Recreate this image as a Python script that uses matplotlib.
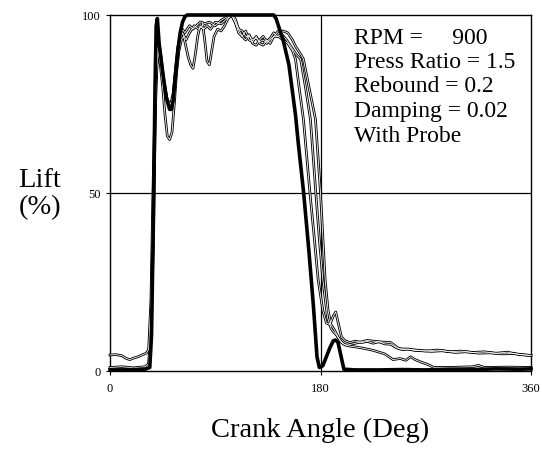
import matplotlib
matplotlib.use("Agg")
import matplotlib.pyplot as plt

plt.rcParams['font.family'] = ['Liberation Serif', 'DejaVu Serif']

# thick trace
thick_angle = [0, 10, 20, 30, 34, 35.5, 37, 38.5, 39.5, 40.5, 42, 45, 48, 51, 52.5, 54, 56, 58, 60,
               62, 64, 66, 100, 140, 142, 145, 148, 153, 158.6, 161, 165.6, 170, 174, 177, 179,
               182, 185, 188, 191, 193, 195, 197, 199, 200, 210, 230, 250, 270, 290, 310, 330,
               350, 360]
thick_lift = [0.3, 0.3, 0.4, 0.5, 1, 10, 40, 80, 97, 99, 92, 84, 77, 73.5, 73.5, 76, 83, 90, 95,
              98, 99.5, 100, 100, 100, 99, 96, 93, 86, 72, 64, 50, 34, 18, 4, 1,
              1.5, 4, 6.5, 8.5, 8.7, 8, 5, 2, 0.5, 0.3, 0.3, 0.4, 0.3, 0.5, 0.4, 0.6,
              0.5, 0.6]

# thin trace B (deep dip, offset baseline)
b_angle = [0, 5, 10, 14, 17, 20, 24, 28, 31, 33, 35, 37, 39, 41, 43, 45, 47, 49, 51, 53, 55, 57,
           59, 61, 63, 65, 67, 69, 71, 73, 75, 77, 80, 83, 86, 90, 95, 100, 104, 107, 110, 113,
           116, 119, 122, 125, 128, 131, 134, 137, 140, 144, 148, 152, 156, 158.6, 162, 165.4,
           171, 174.5, 178, 182, 185, 188, 191, 193, 195.5, 198, 201, 205, 210, 215, 220, 225,
           230, 235, 240, 245, 250, 255, 260, 270, 280, 290, 300, 310, 320, 330, 340, 350, 360]
b_lift = [4.5, 4.6, 4.3, 3.5, 3.2, 3.6, 4.0, 4.6, 5.0, 6, 20, 55, 82, 90, 86, 80, 72, 66, 65, 67,
          75, 84, 90, 93, 94, 91, 88, 86, 85, 89, 94, 97, 96, 97, 96, 98, 97.5, 99, 100, 98, 95,
          94, 95.5, 93, 92.5, 94, 92, 91.5, 93, 92, 94, 94, 93, 92, 90, 87.6, 79, 70.7,
          50, 38, 25.6, 17, 13.5, 13, 15.5, 16.6, 13, 9.5, 8.5, 8, 8.4, 8, 8.3, 7.8,
          8.2, 7.6, 7.5, 6.5, 6, 6.2, 5.8, 5.6, 5.9, 5.4, 5.6, 5.2, 5.4, 5.0, 5.3, 4.6, 4.4]

# thin trace C
c_angle = [0, 10, 20, 30, 33, 35, 37, 39, 41, 43, 46, 49, 52, 54, 56, 58, 60, 62, 64, 66, 68, 71,
           74, 77, 79, 81, 83, 85, 87, 89, 92, 95, 98, 101, 104, 107, 110, 113, 116, 119, 122,
           125, 128, 131, 134, 137, 140, 143, 147, 151, 155, 159, 163, 167, 171.4, 176, 179,
           182, 186, 189, 191, 194, 197, 200, 205, 215, 225, 235, 242, 248, 253, 257, 261, 266,
           272, 277, 290, 300, 310, 315, 320, 340, 360]
c_lift = [1.0, 1.2, 0.9, 1.2, 2, 12, 45, 80, 92, 88, 81, 76, 75, 78, 85, 91, 94, 96, 95, 96, 97,
          96, 97, 98, 98, 93, 87, 86, 90, 94, 96, 95.5, 97, 99, 100, 99, 96, 94, 93, 94.5, 92,
          91.5, 93, 94, 92.5, 93.5, 95, 94, 94.5, 93, 91, 89, 87.6, 80, 70.7, 50, 37,
          25.6, 15, 12, 11, 10, 8.5, 7.5, 7.0, 6.5, 5.8, 4.8, 3.2, 3.5, 3.0, 4.0, 3.2, 2.5,
          1.8, 1.0, 1.0, 1.1, 1.2, 1.6, 1.0, 1.1, 1.0]

# thin trace D
d_angle = [0, 10, 20, 30, 33, 35, 37, 39, 41, 43, 46, 49, 52, 54, 56, 58, 60, 62, 65, 68, 72, 76,
           80, 85, 90, 95, 100, 104, 107, 110, 113, 116, 119, 122, 125, 128, 131, 134, 137, 140,
           144, 148, 152, 156, 159, 163, 165.4, 170, 175.7, 180, 184, 186.5, 189, 192, 195, 198,
           202, 210, 220, 230, 240, 247, 255, 265, 275, 285, 295, 305, 315, 325, 335, 345, 360]
d_lift = [0.5, 0.6, 0.5, 0.8, 1.5, 8, 35, 75, 93, 90, 82, 76, 74.5, 77, 84, 90, 93, 95, 93, 95,
          97, 96, 97.5, 98, 97, 98.5, 99.5, 100, 98, 96, 95.5, 94, 94, 93, 93.5, 92.5, 93, 92,
          93, 94, 95.5, 95.5, 95, 93, 91, 89, 87.6, 80, 70.7, 50, 25.6, 17, 13, 11.5, 9.5, 8,
          7.2, 7.8, 8.6, 8.2, 8.0, 6.3, 6.1, 5.8, 5.5, 5.7, 5.2, 5.4, 5.0, 5.1, 4.8, 4.9, 4.3]

fig = plt.figure(figsize=(5.42, 4.5), dpi=100)
ax = fig.add_axes([110 / 542, 1 - 371 / 450, 421 / 542, 356 / 450])

ax.axvline(180, color='black', lw=0.9, zorder=1)
ax.axhline(50, color='black', lw=0.9, zorder=1)

thin = [(b_angle, b_lift), (c_angle, c_lift), (d_angle, d_lift)]
for a, l in thin:
    ax.plot(a, l, color='black', lw=1.9, zorder=2, clip_on=False)
for a, l in thin:
    ax.plot(a, l, color='white', lw=0.6, zorder=3, clip_on=False)
ax.plot(thick_angle, thick_lift, color='black', lw=2.6, zorder=4, clip_on=False,
        solid_joinstyle='round')

ax.set_xlim(0, 360)
ax.set_ylim(0, 100)
ax.set_xticks([0, 180, 360])
ax.set_yticks([0, 50, 100])
ax.tick_params(direction='out', length=3, width=0.8, labelsize=9, pad=4)
ax.tick_params(axis='x', pad=6)
for s in ax.spines.values():
    s.set_linewidth(1.0)

ax.set_xlabel('Crank Angle (Deg)', fontsize=20.5, labelpad=16)
fig.text(40 / 542, 1 - 194 / 450, 'Lift\n(%)', fontsize=20.5, ha='center', va='center',
         linespacing=1.1)

info = ['RPM =     900', 'Press Ratio = 1.5', 'Rebound = 0.2', 'Damping = 0.02', 'With Probe']
for i, t in enumerate(info):
    fig.text(354 / 542, 1 - (38 + 24.5 * i) / 450, t, fontsize=17, ha='left', va='center')

fig.savefig('out.png', dpi=100)
